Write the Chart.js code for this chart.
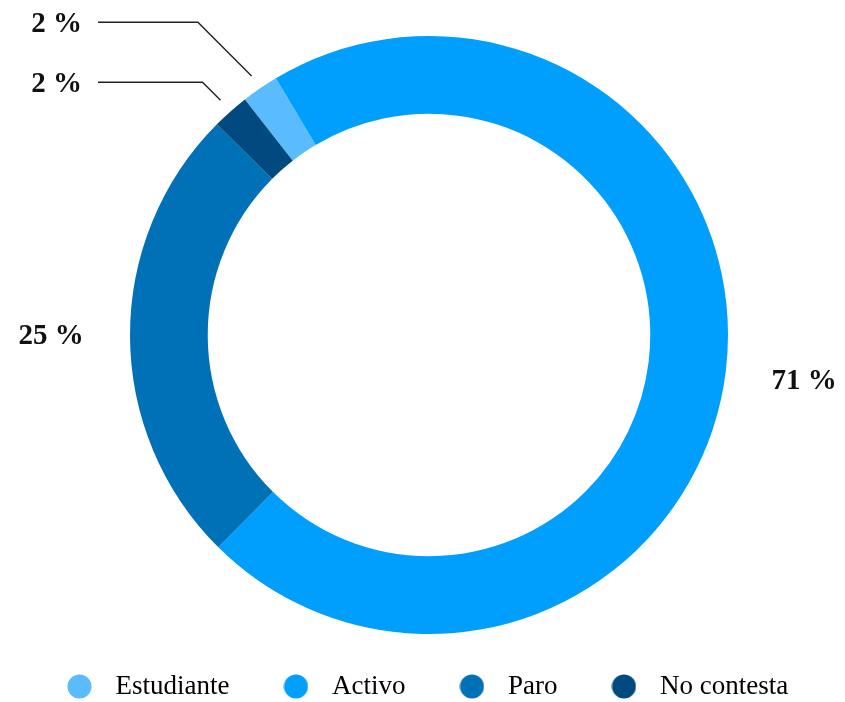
<!DOCTYPE html>
<html>
<head>
<meta charset="utf-8">
<script src="https://cdn.jsdelivr.net/npm/chart.js@4"></script>
<style>
  html, body { margin: 0; padding: 0; background: #fff; }
  canvas { display: block; }
</style>
</head>
<body>
<canvas id="situacionChart" width="845" height="702"></canvas>
<script>
const categories = ["Estudiante", "Activo", "Paro", "No contesta"];
const percentages = [2, 71, 25, 2];
const colors = ["#5bbcfd", "#009ffd", "#0071b6", "#004a80"];

const ctx = document.getElementById("situacionChart").getContext("2d");
const labelFont = "bold 29px 'Liberation Serif', serif";

// round dots for the legend (drawn as small canvases so the gap to the text can be set)
function makeDot(color) {
  const c = document.createElement("canvas");
  c.width = 25;
  c.height = 25;
  const g = c.getContext("2d");
  g.fillStyle = color;
  g.beginPath();
  g.arc(12.5, 12.5, 12, 0, Math.PI * 2);
  g.fill();
  return c;
}
const dots = colors.map(makeDot);

// percentage labels: big slices get a plain label outside the ring,
// small slices are stacked on the left with a leader line
const percentLabels = {
  id: "percentLabels",
  afterDatasetsDraw(chart) {
    const meta = chart.getDatasetMeta(0);
    const g = chart.ctx;
    const small = [];
    g.save();
    g.font = labelFont;
    g.fillStyle = "#111";
    g.textBaseline = "middle";
    meta.data.forEach((arc, i) => {
      const mid = (arc.startAngle + arc.endAngle) / 2;
      const cos = Math.cos(mid), sin = Math.sin(mid);
      const text = percentages[i] + " %";
      if (percentages[i] >= 5) {
        const r = arc.outerRadius + 79;
        g.textAlign = "center";
        g.fillText(text, arc.x + r * cos, arc.y + r * sin);
      } else {
        const r = arc.outerRadius + 15;
        const sx = arc.x + r * cos, sy = arc.y + r * sin;
        small.push({ text, sx, sy, ly: sy - 18, arc });
      }
    });
    // push labels upward so they keep apart
    small.sort((a, b) => b.ly - a.ly);
    for (let k = 1; k < small.length; k++) {
      if (small[k].ly > small[k - 1].ly - 60) small[k].ly = small[k - 1].ly - 60;
    }
    g.strokeStyle = "#222";
    g.lineWidth = 1.4;
    small.forEach((s) => {
      const textRight = s.arc.x - s.arc.outerRadius - 48;
      const kx = s.sx - (s.sy - s.ly);
      g.beginPath();
      g.moveTo(s.sx, s.sy);
      g.lineTo(kx, s.ly);
      g.lineTo(textRight + 16, s.ly);
      g.stroke();
      g.textAlign = "right";
      g.fillText(s.text, textRight, s.ly + 2);
    });
    g.restore();
  },
};

new Chart(ctx, {
  type: "doughnut",
  data: {
    labels: categories,
    datasets: [
      {
        data: percentages,
        backgroundColor: colors,
        borderWidth: 0,
        hoverOffset: 0,
      },
    ],
  },
  options: {
    responsive: false,
    animation: false,
    rotation: -38,
    cutout: "74%",
    radius: 299,
    layout: { padding: { top: 41, bottom: 0, left: 13, right: 0 } },
    plugins: {
      tooltip: { enabled: false },
      legend: {
        position: "bottom",
        align: "start",
        maxHeight: 73,
        labels: {
          usePointStyle: true,
          pointStyleWidth: 45,
          padding: 44,
          color: "#111",
          font: { family: "'Liberation Serif', serif", size: 27 },
          generateLabels: () =>
            categories.map((c, i) => ({
              text: c,
              fillStyle: colors[i],
              strokeStyle: colors[i],
              lineWidth: 0,
              pointStyle: dots[i],
              hidden: false,
              index: i,
            })),
        },
      },
    },
  },
  plugins: [percentLabels],
});
</script>
</body>
</html>
